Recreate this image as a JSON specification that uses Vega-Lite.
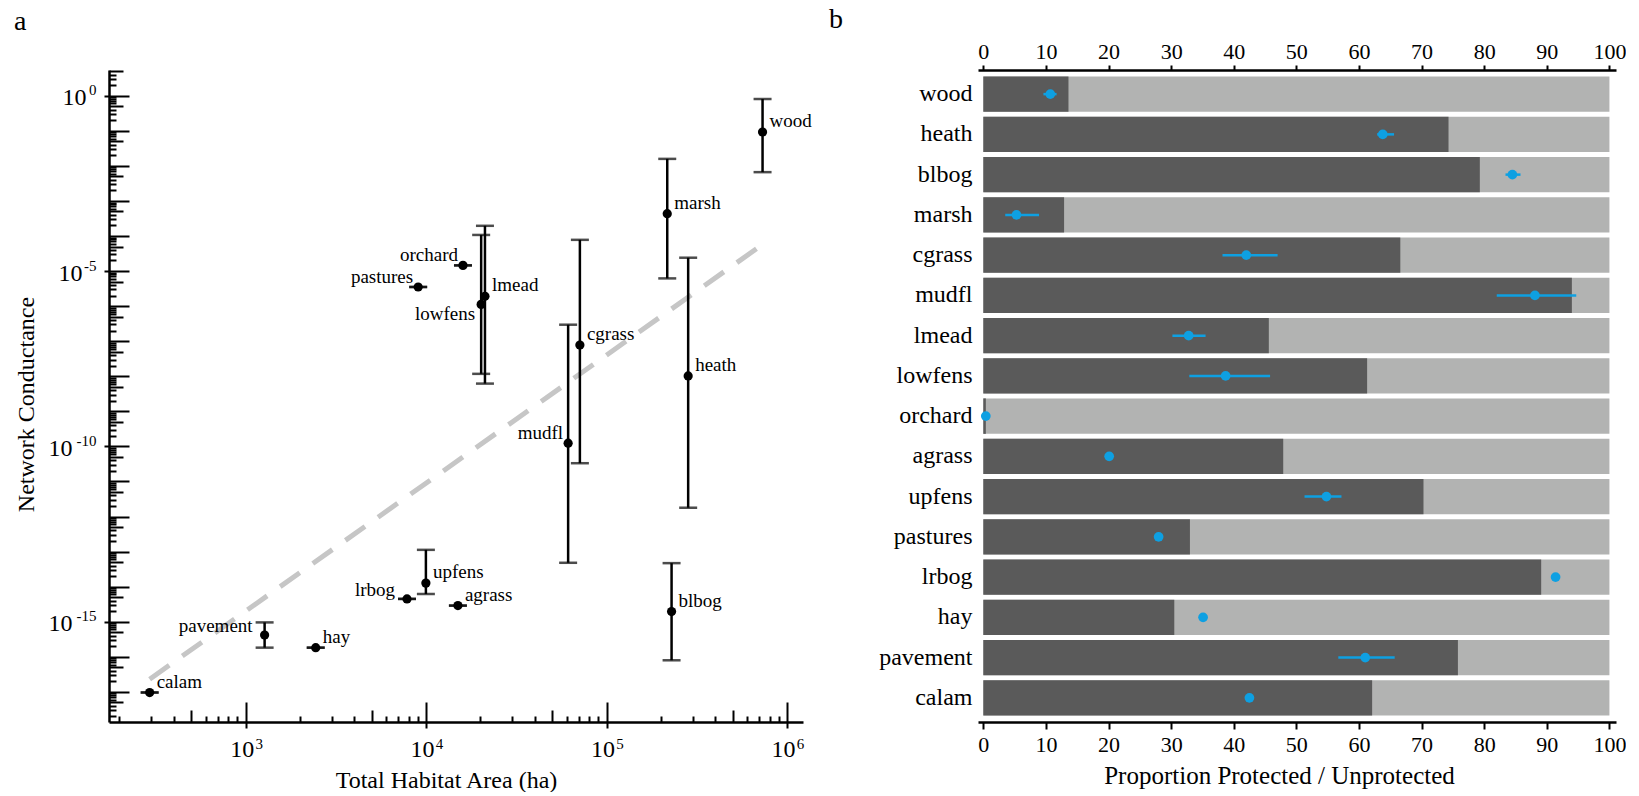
{
  "$schema": "https://vega.github.io/schema/vega-lite/v6.json",
  "padding": {"left": 14, "top": 6, "right": 0, "bottom": 0},
  "spacing": 17,
  "config": {
    "font": "Liberation Serif",
    "view": {"stroke": null},
    "title": {"font": "Liberation Serif", "fontWeight": "normal", "color": "black"},
    "axis": {"labelFont": "Liberation Serif", "titleFont": "Liberation Serif", "labelColor": "black", "titleColor": "black", "titleFontWeight": "normal", "grid": false, "tickColor": "black", "domainColor": "black"}
  },
  "datasets": {
    "hab": [
      {"name": "calam", "area": 294, "cond": 9.55e-18, "lo": 9.55e-18, "hi": 9.55e-18},
      {"name": "pavement", "area": 1274, "cond": 4.17e-16, "lo": 1.82e-16, "hi": 9.55e-16},
      {"name": "hay", "area": 2445, "cond": 1.82e-16, "lo": 1.82e-16, "hi": 1.82e-16},
      {"name": "lrbog", "area": 7834, "cond": 4.47e-15, "lo": 4.47e-15, "hi": 4.47e-15},
      {"name": "upfens", "area": 9970, "cond": 1.26e-14, "lo": 6.17e-15, "hi": 1.12e-13},
      {"name": "agrass", "area": 15000, "cond": 2.88e-15, "lo": 2.88e-15, "hi": 2.88e-15},
      {"name": "orchard", "area": 16000, "cond": 1.45e-5, "lo": 1.45e-5, "hi": 1.45e-5},
      {"name": "pastures", "area": 9035, "cond": 3.51e-6, "lo": 3.51e-6, "hi": 3.51e-6},
      {"name": "lmead", "area": 21180, "cond": 1.91e-6, "lo": 6.17e-9, "hi": 1.95e-4},
      {"name": "lowfens", "area": 20180, "cond": 1.12e-6, "lo": 1.17e-8, "hi": 1.07e-4},
      {"name": "cgrass", "area": 71100, "cond": 7.76e-8, "lo": 3.31e-11, "hi": 7.76e-5},
      {"name": "mudfl", "area": 61200, "cond": 1.23e-10, "lo": 4.79e-14, "hi": 2.95e-7},
      {"name": "heath", "area": 283000, "cond": 1.02e-8, "lo": 1.78e-12, "hi": 2.40e-5},
      {"name": "marsh", "area": 216700, "cond": 4.32e-4, "lo": 6.17e-6, "hi": 1.58e-2},
      {"name": "wood", "area": 731000, "cond": 0.0923, "lo": 6.61e-3, "hi": 0.805},
      {"name": "blbog", "area": 229000, "cond": 1.95e-15, "lo": 7.94e-17, "hi": 4.68e-14}
    ],
    "fit": [
      {"area": 294, "cond": 2.29e-17},
      {"area": 731000, "cond": 5.75e-5}
    ],
    "prot": [
      {"name": "wood", "protected": 13.6, "pt": 10.7, "lo": 9.6, "hi": 11.7},
      {"name": "heath", "protected": 74.3, "pt": 63.8, "lo": 62.9, "hi": 65.6},
      {"name": "blbog", "protected": 79.3, "pt": 84.5, "lo": 83.4, "hi": 85.8},
      {"name": "marsh", "protected": 12.9, "pt": 5.3, "lo": 3.5, "hi": 8.9},
      {"name": "cgrass", "protected": 66.6, "pt": 42.0, "lo": 38.2, "hi": 47.0},
      {"name": "mudfl", "protected": 94.0, "pt": 88.1, "lo": 82.0, "hi": 94.7},
      {"name": "lmead", "protected": 45.6, "pt": 32.8, "lo": 30.2, "hi": 35.5},
      {"name": "lowfens", "protected": 61.3, "pt": 38.7, "lo": 32.9, "hi": 45.8},
      {"name": "orchard", "protected": 0.4, "pt": 0.4, "lo": 0.4, "hi": 0.4},
      {"name": "agrass", "protected": 47.9, "pt": 20.1, "lo": 20.1, "hi": 20.1},
      {"name": "upfens", "protected": 70.3, "pt": 54.8, "lo": 51.3, "hi": 57.2},
      {"name": "pastures", "protected": 33.0, "pt": 28.0, "lo": 28.0, "hi": 28.0},
      {"name": "lrbog", "protected": 89.1, "pt": 91.4, "lo": 91.4, "hi": 91.4},
      {"name": "hay", "protected": 30.5, "pt": 35.1, "lo": 35.1, "hi": 35.1},
      {"name": "pavement", "protected": 75.8, "pt": 61.0, "lo": 56.7, "hi": 65.7},
      {"name": "calam", "protected": 62.1, "pt": 42.5, "lo": 42.5, "hi": 42.5}
    ]
  },
  "hconcat": [
    {
      "width": 694,
      "height": 652,
      "title": {"text": "a", "anchor": "start", "frame": "group", "dx": -95, "fontSize": 28, "offset": 34},
      "data": {"name": "hab"},
      "resolve": {"axis": {"x": "independent", "y": "independent"}},
      "layer": [
        {
          "data": {"name": "fit"},
          "mark": {"type": "line", "color": "#c6c6c6", "strokeWidth": 5, "strokeDash": [24, 16]},
          "encoding": {
            "x": {"field": "area", "type": "quantitative", "scale": {"type": "log", "domain": [175, 1224600], "nice": false},
              "axis": {"orient": "bottom", "values": [1000, 10000, 100000, 1000000], "labelExpr": "'10'", "labelOffset": -4, "tickSize": 6, "tickWidth": 2, "domain": true, "domainWidth": 2.5, "labelFontSize": 24, "labelPadding": 9, "labelFlush": false, "labelOverlap": false, "title": "Total Habitat Area (ha)", "titleFontSize": 24, "titlePadding": 7, "titleX": 337, "titleAlign": "center"}},
            "y": {"field": "cond", "type": "quantitative", "scale": {"type": "log", "domain": [1.38e-18, 5.41], "nice": false},
              "axis": {"orient": "left", "values": [1, 1e-5, 1e-10, 1e-15], "labelExpr": "datum.value < 1e-7 ? '10' : ''", "labelOffset": 2, "tickSize": 5, "tickWidth": 2, "domain": true, "domainWidth": 2.5, "labelFontSize": 24, "labelPadding": 32, "labelFlush": false, "labelOverlap": false, "title": "Network Conductance", "titleFontSize": 24, "titlePadding": 10, "titleY": 334, "titleAlign": "center"}}
          }
        },
        {
          "mark": {"type": "rule", "color": "black", "strokeWidth": 2.5},
          "encoding": {
            "x": {"field": "area", "type": "quantitative", "scale": {"type": "log", "domain": [175, 1224600], "nice": false},
              "axis": {"orient": "bottom", "values": [1000, 10000, 100000, 1000000], "tickSize": -20, "tickWidth": 2, "labels": false, "domain": false, "title": null}},
            "y": {"field": "lo", "type": "quantitative", "scale": {"type": "log", "domain": [1.38e-18, 5.41], "nice": false},
              "axis": {"orient": "left", "values": [1e-17, 1e-16, 1e-15, 1e-14, 1e-13, 1e-12, 1e-11, 1e-10, 1e-9, 1e-8, 1e-7, 1e-6, 1e-5, 1e-4, 1e-3, 1e-2, 1e-1, 1], "tickSize": -20, "tickWidth": 2, "labels": false, "domain": false, "title": null}},
            "y2": {"field": "hi"}
          }
        },
        {
          "transform": [{"fold": ["lo", "hi"], "as": ["which", "capv"]}],
          "mark": {"type": "tick", "orient": "horizontal", "color": "black", "size": 18, "thickness": 2.5},
          "encoding": {
            "x": {"field": "area", "type": "quantitative", "scale": {"type": "log", "domain": [175, 1224600], "nice": false},
              "axis": {"orient": "bottom", "values": [500, 5000, 50000, 500000], "tickSize": -12, "tickWidth": 2, "labels": false, "domain": false, "title": null}},
            "y": {"field": "capv", "type": "quantitative", "scale": {"type": "log", "domain": [1.38e-18, 5.41], "nice": false},
              "axis": {"orient": "left", "values": [5e-18, 5e-17, 5e-16, 5e-15, 5e-14, 5e-13, 5e-12, 5e-11, 5e-10, 5e-9, 5e-8, 5e-7, 5e-6, 5e-5, 5e-4, 5e-3, 5e-2, 5e-1, 5], "tickSize": -14, "tickWidth": 2, "labels": false, "domain": false, "title": null}}
          }
        },
        {
          "mark": {"type": "circle", "color": "black", "size": 85, "opacity": 1},
          "encoding": {
            "x": {"field": "area", "type": "quantitative", "scale": {"type": "log", "domain": [175, 1224600], "nice": false},
              "axis": {"orient": "bottom", "values": [200, 300, 400, 600, 700, 800, 900, 2000, 3000, 4000, 6000, 7000, 8000, 9000, 20000, 30000, 40000, 60000, 70000, 80000, 90000, 200000, 300000, 400000, 600000, 700000, 800000, 900000], "tickSize": -6, "tickWidth": 2, "labels": false, "domain": false, "title": null}},
            "y": {"field": "cond", "type": "quantitative", "scale": {"type": "log", "domain": [1.38e-18, 5.41], "nice": false},
              "axis": {"orient": "left", "values": [2e-18, 3e-18, 4e-18, 6e-18, 7e-18, 8e-18, 9e-18, 2e-17, 3e-17, 4e-17, 6e-17, 7e-17, 8e-17, 9e-17, 2e-16, 3e-16, 4e-16, 6e-16, 7e-16, 8e-16, 9e-16, 2e-15, 3e-15, 4e-15, 6e-15, 7e-15, 8e-15, 9e-15, 2e-14, 3e-14, 4e-14, 6e-14, 7e-14, 8e-14, 9e-14, 2e-13, 3e-13, 4e-13, 6e-13, 7e-13, 8e-13, 9e-13, 2e-12, 3e-12, 4e-12, 6e-12, 7e-12, 8e-12, 9e-12, 2e-11, 3e-11, 4e-11, 6e-11, 7e-11, 8e-11, 9e-11, 2e-10, 3e-10, 4e-10, 6e-10, 7e-10, 8e-10, 9e-10, 2e-9, 3e-9, 4e-9, 6e-9, 7e-9, 8e-9, 9e-9, 2e-8, 3e-8, 4e-8, 6e-8, 7e-8, 8e-8, 9e-8, 2e-7, 3e-7, 4e-7, 6e-7, 7e-7, 8e-7, 9e-7, 2e-6, 3e-6, 4e-6, 6e-6, 7e-6, 8e-6, 9e-6, 2e-5, 3e-5, 4e-5, 6e-5, 7e-5, 8e-5, 9e-5, 2e-4, 3e-4, 4e-4, 6e-4, 7e-4, 8e-4, 9e-4, 2e-3, 3e-3, 4e-3, 6e-3, 7e-3, 8e-3, 9e-3, 2e-2, 3e-2, 4e-2, 6e-2, 7e-2, 8e-2, 9e-2, 2e-1, 3e-1, 4e-1, 6e-1, 7e-1, 8e-1, 9e-1, 2, 3, 4], "tickSize": -7, "tickWidth": 2, "labels": false, "domain": false, "title": null}}
          }
        },
        {
          "transform": [{"filter": {"field": "name", "oneOf": ["wood", "marsh", "heath", "cgrass", "lmead", "blbog", "upfens", "agrass", "hay", "calam"]}}],
          "mark": {"type": "text", "align": "left", "baseline": "middle", "dx": 7, "dy": -11, "fontSize": 19, "color": "black"},
          "encoding": {
            "x": {"field": "area", "type": "quantitative", "scale": {"type": "log", "domain": [175, 1224600], "nice": false},
              "axis": {"orient": "bottom", "values": [1000, 10000, 100000, 1000000], "labelExpr": "datum.value < 5000 ? '3' : datum.value < 50000 ? '4' : datum.value < 500000 ? '5' : '6'", "labelOffset": 13, "ticks": false, "domain": false, "labelFontSize": 15, "labelPadding": 14, "labelFlush": false, "labelOverlap": false, "title": null}},
            "y": {"field": "cond", "type": "quantitative", "scale": {"type": "log", "domain": [1.38e-18, 5.41], "nice": false},
              "axis": {"orient": "left", "values": [1, 1e-5, 1e-10, 1e-15], "labelExpr": "datum.value > 0.5 ? '0' : datum.value > 1e-6 ? '-5' : datum.value > 1e-11 ? '-10' : '-15'", "labelOffset": -6, "ticks": false, "domain": false, "labelFontSize": 15, "labelPadding": 13, "labelFlush": false, "labelOverlap": false, "title": null}},
            "text": {"field": "name"}
          }
        },
        {
          "transform": [{"filter": {"field": "name", "oneOf": ["orchard", "pastures", "mudfl"]}}],
          "mark": {"type": "text", "align": "right", "baseline": "middle", "dx": -5, "dy": -10, "fontSize": 19, "color": "black"},
          "encoding": {
            "x": {"field": "area", "type": "quantitative", "axis": null},
            "y": {"field": "cond", "type": "quantitative",
              "axis": {"orient": "left", "values": [1e-5], "labelExpr": "'10'", "labelOffset": 2, "ticks": false, "domain": false, "labelFontSize": 24, "labelPadding": 27, "labelFlush": false, "labelOverlap": false, "title": null}},
            "text": {"field": "name"}
          }
        },
        {
          "transform": [{"filter": {"field": "name", "oneOf": ["pavement", "lrbog"]}}],
          "mark": {"type": "text", "align": "right", "baseline": "middle", "dx": -12, "dy": -9, "fontSize": 19, "color": "black"},
          "encoding": {
            "x": {"field": "area", "type": "quantitative", "axis": null},
            "y": {"field": "cond", "type": "quantitative",
              "axis": {"orient": "left", "values": [1], "labelExpr": "'10'", "labelOffset": 2, "ticks": false, "domain": false, "labelFontSize": 24, "labelPadding": 23, "labelFlush": false, "labelOverlap": false, "title": null}},
            "text": {"field": "name"}
          }
        },
        {
          "transform": [{"filter": {"field": "name", "oneOf": ["lowfens"]}}],
          "mark": {"type": "text", "align": "right", "baseline": "middle", "dx": -6, "dy": 10, "fontSize": 19, "color": "black"},
          "encoding": {
            "x": {"field": "area", "type": "quantitative", "axis": null},
            "y": {"field": "cond", "type": "quantitative", "axis": null},
            "text": {"field": "name"}
          }
        }
      ]
    },
    {
      "width": 638,
      "height": 652,
      "title": {"text": "b", "anchor": "start", "frame": "group", "dx": -149, "fontSize": 28, "offset": 6},
      "data": {"name": "prot"},
      "resolve": {"axis": {"x": "independent", "y": "independent"}},
      "layer": [
        {
          "mark": {"type": "bar", "color": "#b2b3b2"},
          "encoding": {
            "x": {"datum": 100, "type": "quantitative", "scale": {"domain": [-0.85, 101.05], "nice": false, "zero": false},
              "axis": {"orient": "top", "values": [0, 10, 20, 30, 40, 50, 60, 70, 80, 90, 100], "tickSize": 5, "tickWidth": 2, "domainWidth": 2.5, "labelFontSize": 22, "labelPadding": 2, "labelFlush": false, "labelOverlap": false, "title": null}},
            "x2": {"datum": 0},
            "y": {"field": "name", "type": "nominal", "sort": ["wood", "heath", "blbog", "marsh", "cgrass", "mudfl", "lmead", "lowfens", "orchard", "agrass", "upfens", "pastures", "lrbog", "hay", "pavement", "calam"],
              "scale": {"paddingInner": 0.119, "paddingOuter": 0.159},
              "axis": {"orient": "left", "domain": false, "ticks": false, "labels": true, "labelFontSize": 24, "labelPadding": 6, "labelColor": "black", "title": null}}
          }
        },
        {
          "mark": {"type": "bar", "color": "#5a5a5a"},
          "encoding": {
            "x": {"field": "protected", "type": "quantitative", "scale": {"domain": [-0.85, 101.05], "nice": false, "zero": false},
              "axis": {"orient": "bottom", "values": [0, 10, 20, 30, 40, 50, 60, 70, 80, 90, 100], "tickSize": 7, "tickWidth": 2, "domainWidth": 2.5, "labelFontSize": 22, "labelPadding": 5, "labelFlush": false, "labelOverlap": false, "title": "Proportion Protected / Unprotected", "titleFontSize": 25, "titlePadding": 8, "titleX": 301, "titleAlign": "center"}},
            "x2": {"datum": 0},
            "y": {"field": "name", "type": "nominal", "sort": ["wood", "heath", "blbog", "marsh", "cgrass", "mudfl", "lmead", "lowfens", "orchard", "agrass", "upfens", "pastures", "lrbog", "hay", "pavement", "calam"], "axis": null}
          }
        },
        {
          "mark": {"type": "rule", "color": "#0ea0e2", "strokeWidth": 2.5},
          "encoding": {
            "x": {"field": "lo", "type": "quantitative", "axis": null},
            "x2": {"field": "hi"},
            "y": {"field": "name", "type": "nominal", "sort": ["wood", "heath", "blbog", "marsh", "cgrass", "mudfl", "lmead", "lowfens", "orchard", "agrass", "upfens", "pastures", "lrbog", "hay", "pavement", "calam"], "axis": null}
          }
        },
        {
          "mark": {"type": "circle", "color": "#0ea0e2", "size": 95, "opacity": 1},
          "encoding": {
            "x": {"field": "pt", "type": "quantitative", "axis": null},
            "y": {"field": "name", "type": "nominal", "sort": ["wood", "heath", "blbog", "marsh", "cgrass", "mudfl", "lmead", "lowfens", "orchard", "agrass", "upfens", "pastures", "lrbog", "hay", "pavement", "calam"], "axis": null}
          }
        }
      ]
    }
  ]
}
